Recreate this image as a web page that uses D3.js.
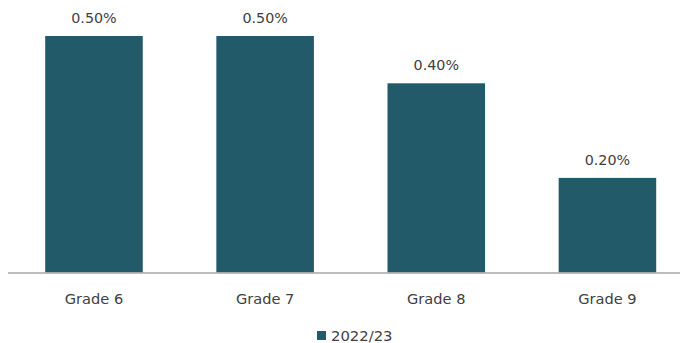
<!DOCTYPE html>
<html>
<head>
<meta charset="utf-8">
<script src="https://cdn.jsdelivr.net/npm/d3@7"></script>
<style>
  body { margin: 0; background: white; }
  text { font-family: "DejaVu Sans", Verdana, sans-serif; }
</style>
</head>
<body>
<div id="container"></div>
<script>
let w = 680;
let h = 343;

let grades = ["Grade 6", "Grade 7", "Grade 8", "Grade 9"];
let rates = [0.5, 0.5, 0.4, 0.2];
let seriesName = "2022/23";

let barColor = "#235A69";
let textColor = "#404040";

let viz = d3.select("#container")
  .append("svg")
  .attr("width", w)
  .attr("height", h)
  .style("background-color", "white");

let baseY = 272.5;

let xScale = d3.scaleBand().domain(grades).range([8.4, 693]).paddingInner(0.43).paddingOuter(0.215);
let yScale = d3.scaleLinear().domain([0, 0.5]).range([baseY, 36]);

let data = grades.map((g, i) => ({ grade: g, value: rates[i] }));

viz.selectAll(".bar").data(data).enter()
  .append("rect")
  .attr("class", "bar")
  .attr("x", d => xScale(d.grade))
  .attr("y", d => yScale(d.value))
  .attr("width", xScale.bandwidth())
  .attr("height", d => baseY - yScale(d.value))
  .attr("fill", barColor);

// axis line
viz.append("line")
  .attr("x1", 8)
  .attr("x2", 680)
  .attr("y1", baseY + 0.5)
  .attr("y2", baseY + 0.5)
  .attr("stroke", "#a6a6a6")
  .attr("stroke-width", 1.3);

// value labels
viz.selectAll(".valueLabel").data(data).enter()
  .append("text")
  .attr("class", "valueLabel")
  .attr("x", d => xScale(d.grade) + xScale.bandwidth() / 2)
  .attr("y", d => yScale(d.value) - 13)
  .attr("text-anchor", "middle")
  .attr("font-size", "14.3px")
  .attr("fill", textColor)
  .text(d => d.value.toFixed(2) + "%");

// category labels
viz.selectAll(".catLabel").data(grades).enter()
  .append("text")
  .attr("class", "catLabel")
  .attr("x", d => xScale(d) + xScale.bandwidth() / 2)
  .attr("y", 303.5)
  .attr("text-anchor", "middle")
  .attr("font-size", "14.6px")
  .attr("fill", textColor)
  .text(d => d);

// legend
let legend = viz.append("g").attr("transform", "translate(317,331)");
legend.append("rect")
  .attr("width", 9)
  .attr("height", 9)
  .attr("fill", barColor);
legend.append("text")
  .attr("x", 14)
  .attr("y", 10)
  .attr("font-size", "14.8px")
  .attr("fill", textColor)
  .text(seriesName);
</script>
</body>
</html>
